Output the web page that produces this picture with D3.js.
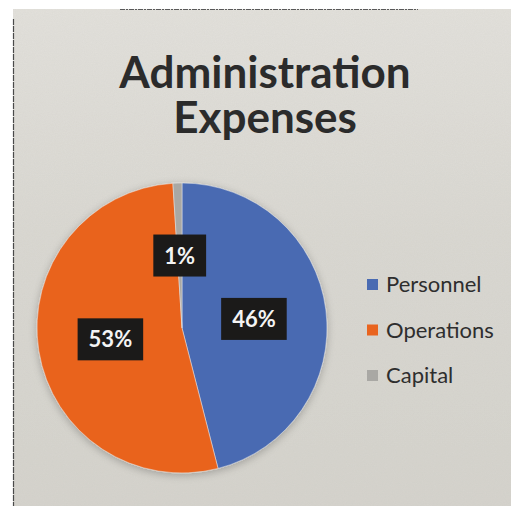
<!DOCTYPE html>
<html>
<head>
<meta charset="utf-8">
<script src="https://cdn.jsdelivr.net/npm/d3@7/dist/d3.min.js"></script>
<style>
  html, body { margin: 0; padding: 0; background: #ffffff; }
  svg { display: block; }
  text { font-family: Lato, "Open Sans", sans-serif; }
</style>
</head>
<body>
<svg id="chart" width="511" height="506"></svg>
<script>
// Administration expenses, share of total (percent)
const categories = ["Personnel", "Operations", "Capital"];
const shares = [46, 53, 1];
const sliceColors = ["#4a6bb2", "#e9641f", "#a9a8a4"];
const titleLines = ["Administration", "Expenses"];

const W = 511, H = 506;
const svg = d3.select("#chart");
const defs = svg.append("defs");

// soft paper background
const grad = defs.append("linearGradient").attr("id", "paper")
  .attr("x1", 0).attr("y1", 0).attr("x2", 0).attr("y2", 1);
grad.append("stop").attr("offset", "0%").attr("stop-color", "#e3e1dc");
grad.append("stop").attr("offset", "45%").attr("stop-color", "#dad8d2");
grad.append("stop").attr("offset", "100%").attr("stop-color", "#d5d3cd");

const grain = defs.append("filter").attr("id", "grain")
  .attr("x", 0).attr("y", 0).attr("width", "100%").attr("height", "100%");
grain.append("feTurbulence").attr("type", "fractalNoise")
  .attr("baseFrequency", 0.9).attr("numOctaves", 2).attr("seed", 3).attr("result", "n");
grain.append("feColorMatrix").attr("in", "n").attr("type", "matrix")
  .attr("values", "0 0 0 0 0.55  0 0 0 0 0.55  0 0 0 0 0.5  0 0 0 0.22 0").attr("result", "g");
grain.append("feComposite").attr("in", "g").attr("in2", "SourceGraphic").attr("operator", "in").attr("result", "gc");
grain.append("feMerge").call(m => {
  m.append("feMergeNode").attr("in", "SourceGraphic");
  m.append("feMergeNode").attr("in", "gc");
});

const shadow = defs.append("filter").attr("id", "shadow")
  .attr("x", "-20%").attr("y", "-20%").attr("width", "140%").attr("height", "140%");
shadow.append("feGaussianBlur").attr("in", "SourceAlpha").attr("stdDeviation", 4).attr("result", "b");
shadow.append("feOffset").attr("in", "b").attr("dx", 0).attr("dy", 2).attr("result", "o");
shadow.append("feComponentTransfer").attr("in", "o").attr("result", "s")
  .append("feFuncA").attr("type", "linear").attr("slope", 0.25);
shadow.append("feMerge").call(m => {
  m.append("feMergeNode").attr("in", "s");
  m.append("feMergeNode").attr("in", "SourceGraphic");
});

// chart area
const area = { x: 13, y: 9, w: W - 13, h: H - 9 };
svg.append("rect")
  .attr("x", area.x).attr("y", area.y).attr("width", area.w).attr("height", area.h)
  .attr("fill", "url(#paper)").attr("filter", "url(#grain)");
svg.append("line")
  .attr("x1", area.x + 0.5).attr("x2", area.x + 0.5).attr("y1", area.y + 10).attr("y2", H)
  .attr("stroke", "#4a4a4a").attr("stroke-width", 1.2).attr("stroke-dasharray", "6 1");
svg.append("line")
  .attr("x1", 120).attr("x2", 418).attr("y1", area.y + 0.5).attr("y2", area.y + 0.5)
  .attr("stroke", "#5a5a5a").attr("stroke-width", 1).attr("stroke-dasharray", "5 1 2 1");

// two-line title in one text element
const title = svg.append("text").attr("fill", "#2b2b2b")
  .attr("font-size", 44).attr("font-weight", 700).attr("text-anchor", "middle")
  .attr("y", 88);
title.selectAll("tspan").data(titleLines).join("tspan")
  .attr("x", 265).attr("dy", (d, i) => i === 0 ? 0 : 45)
  .text(d => d);

// pie
const cx = 182, cy = 328, R = 145;
const pie = d3.pie().sort(null).value(d => d.value);
const data = categories.map((c, i) => ({ name: c, value: shares[i], color: sliceColors[i] }));
const arcs = pie(data);
const arc = d3.arc().innerRadius(0).outerRadius(R);
const labelArc = d3.arc().innerRadius(R * 0.5).outerRadius(R * 0.5);

const pieG = svg.append("g").attr("transform", `translate(${cx},${cy})`);
pieG.append("g").attr("filter", "url(#shadow)")
  .selectAll("path").data(arcs).join("path")
  .attr("d", arc)
  .attr("fill", d => d.data.color)
  .attr("stroke", "rgba(235,235,235,0.6)").attr("stroke-width", 0.8);

// percentage labels in dark boxes
const lab = pieG.selectAll("g.lab").data(arcs).join("g").attr("class", "lab")
  .attr("transform", d => `translate(${labelArc.centroid(d)})`);
lab.append("rect").attr("fill", "#1b1a19");
lab.append("text")
  .attr("text-anchor", "middle").attr("y", 8)
  .attr("font-size", 22).attr("font-weight", 700).attr("fill", "#f4f4f4")
  .text(d => d3.format(".0f")(d.data.value) + "%");
lab.each(function () {
  const g = d3.select(this);
  const w = g.select("text").node().getComputedTextLength() + 22;
  const h = 42;
  g.select("rect").attr("x", -w / 2).attr("y", -h / 2).attr("width", w).attr("height", h);
});

// legend
const legend = svg.append("g").attr("transform", "translate(367,285)");
const item = legend.selectAll("g").data(data).join("g")
  .attr("transform", (d, i) => `translate(0,${i * 45.5})`);
item.append("rect").attr("x", 0).attr("y", -6).attr("width", 11).attr("height", 11)
  .attr("fill", d => d.color);
item.append("text").attr("x", 19).attr("y", 7)
  .attr("font-size", 22).attr("fill", "#2e2e2e")
  .text(d => d.name);
</script>
</body>
</html>
